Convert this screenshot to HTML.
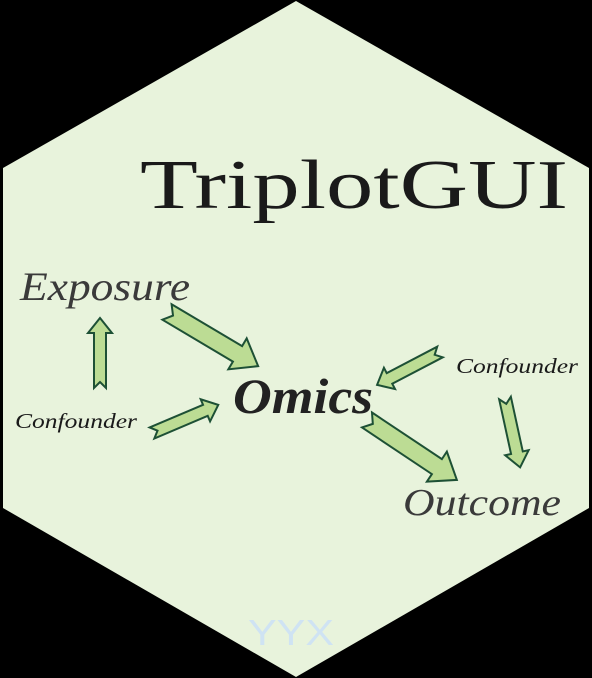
<!DOCTYPE html>
<html><head><meta charset="utf-8"><style>
html,body{margin:0;padding:0;background:#000;}
svg{display:block;}
</style></head><body>
<svg width="592" height="678" viewBox="0 0 592 678" xmlns="http://www.w3.org/2000/svg">
<rect width="592" height="678" fill="#000"/>
<polygon points="296,1 589,168 589,508 296,677 3,508 3,168" fill="#e8f3dc"/>
<g fill="#bcdc94" stroke="#1d5035" stroke-width="2" stroke-linejoin="miter">
<polygon transform="translate(167,312) rotate(30.7)" points="0,-9 82,-9 82,-18 106,0 82,18 82,9 0,9 7,0"/>
<polygon transform="translate(152,433) rotate(-23)" points="0,-6 58,-6 58,-12 72,0 58,12 58,6 0,6 6,0"/>
<polygon transform="translate(100,388) rotate(-90)" points="0,-6 55,-6 55,-12 70,0 55,12 55,6 0,6 6,0"/>
<polygon transform="translate(440,352) rotate(152.4)" points="0,-6 57,-6 57,-12 71,0 57,12 57,6 0,6 6,0"/>
<polygon transform="translate(367,420) rotate(33.7)" points="0,-9 84,-9 84,-18 108,0 84,18 84,9 0,9 7,0"/>
<polygon transform="translate(505,398) rotate(77.7)" points="0,-6 56,-6 56,-12 71,0 56,12 56,6 0,6 6,0"/>
</g>
<g font-family="'Liberation Serif', serif" font-style="italic">
<text x="140" y="208" font-size="70" font-style="normal" fill="#1a1a1a" textLength="428" lengthAdjust="spacingAndGlyphs">TriplotGUI</text>
<text x="20" y="300" font-size="40" fill="#3a3a3a" textLength="170" lengthAdjust="spacingAndGlyphs">Exposure</text>
<text x="233" y="413" font-size="50" font-weight="bold" fill="#222" textLength="140" lengthAdjust="spacingAndGlyphs">Omics</text>
<text x="403" y="515" font-size="38" fill="#3a3a3a" textLength="158" lengthAdjust="spacingAndGlyphs">Outcome</text>
<text x="15" y="428" font-size="21" fill="#1a1a1a" textLength="122" lengthAdjust="spacingAndGlyphs">Confounder</text>
<text x="456" y="373" font-size="21" fill="#1a1a1a" textLength="122" lengthAdjust="spacingAndGlyphs">Confounder</text>
</g>
<text x="248" y="645" font-family="'Liberation Sans', sans-serif" font-size="36" fill="#cfe3f3" textLength="86" lengthAdjust="spacingAndGlyphs">YYX</text>
</svg>
</body></html>
